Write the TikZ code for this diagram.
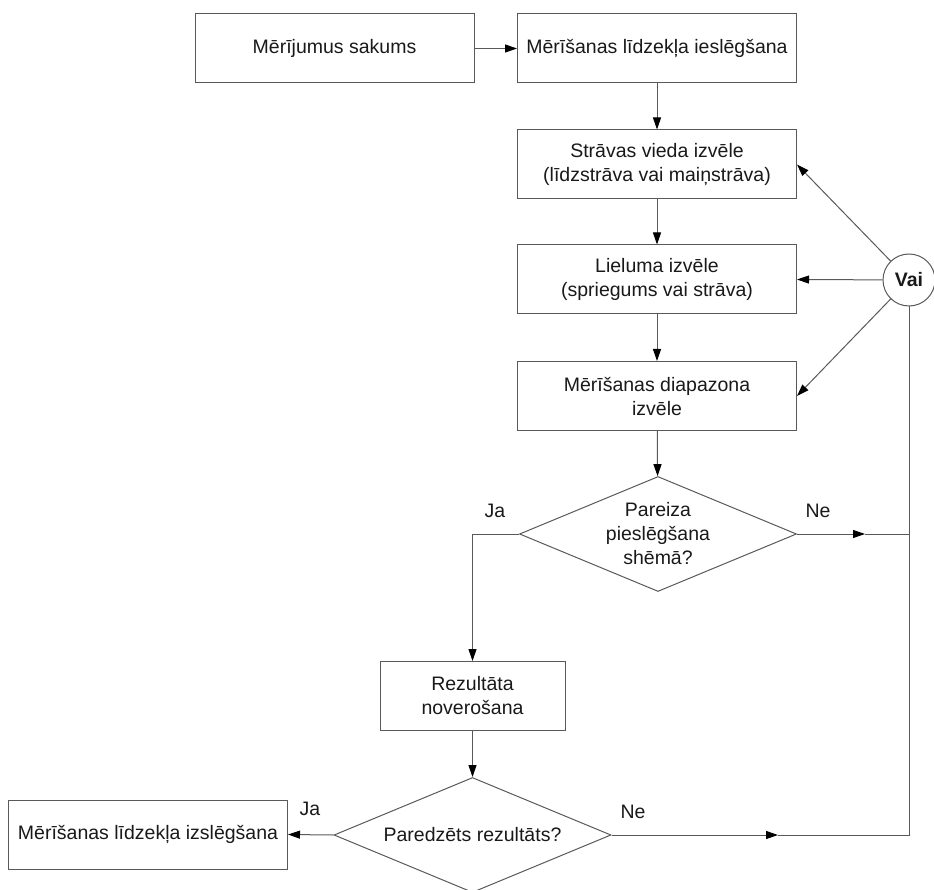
\documentclass[tikz,border=0pt]{standalone}
\usepackage{fontspec}
\setmainfont{Liberation Sans}
\usepackage{tikz}
\usetikzlibrary{shapes, arrows.meta, positioning, calc}

\begin{document}
\begin{tikzpicture}[
    x=1pt, y=-1pt,
    every node/.style={font=\fontsize{19.5pt}{24pt}\selectfont, text=black!90},
    blk/.style={draw=black!65, line width=1pt, minimum width=279pt, minimum height=69pt,
                align=center, inner sep=2pt},
    qst/.style={diamond, draw=black!65, line width=1pt, aspect=2.4, inner sep=0pt,
                minimum width=277pt, minimum height=115pt, align=center},
    arr/.style={-{Triangle[length=12pt, width=8pt, color=black]}, draw=black!65, line width=1pt},
    ln/.style={draw=black!65, line width=1pt}
]
\useasboundingbox (0,0) rectangle (934,890);

% Main column
\node[blk] (start) at (334.5, 48.5) {Mērījumus sakums};
\node[blk] (ieslg) at (657, 48.5) {Mērīšanas līdzekļa ieslēgšana};
\node[blk] (strav) at (657, 164.5) {Strāvas vieda izvēle\\(līdzstrāva vai maiņstrāva)};
\node[blk] (liel) at (657, 279.5) {Lieluma izvēle\\(spriegums vai strāva)};
\node[blk] (diap) at (657, 396) {Mērīšanas diapazona\\izvēle};
\node[qst] (piesl) at (658, 534) {Pareiza\\pieslēgšana\\shēmā?};

% Lower part
\node[blk, minimum width=185pt] (rez) at (472.5, 696) {Rezultāta\\noverošana};
\node[qst] (pared) at (472.5, 835) {Paredzēts rezultāts?};
\node[blk] (izslg) at (148, 834.5) {Mērīšanas līdzekļa izslēgšana};

% Choice node
\node[circle, draw=black!65, line width=1pt, minimum size=52pt, inner sep=0pt,
      font=\fontsize{19.5pt}{24pt}\selectfont\bfseries] (vai) at (909, 280) {Vai};

% Labels
\node (ja1) at (495, 511) {Ja};
\node (ne1) at (818, 511) {Ne};
\node (ja2) at (310, 809) {Ja};
\node (ne2) at (633, 812) {Ne};

% Helper points
\coordinate (mid1) at (865, 534);
\coordinate (mid2) at (778, 835);
\coordinate (corner) at (vai.south |- pared.east);

% Flow
\draw[arr] (start) -- (ieslg);
\draw[arr] (ieslg) -- (strav);
\draw[arr] (strav) -- (liel);
\draw[arr] (liel) -- (diap);
\draw[arr] (diap) -- (piesl);
\draw[arr] (piesl.west) -| (rez.north);
\draw[arr] (rez) -- (pared);
\draw[arr] (pared.west) -- (izslg.east);

% Return lines
\draw[arr] (piesl.east) -- (mid1);
\draw[ln] (mid1) -- (vai.south |- mid1);
\draw[arr] (pared.east) -- (mid2);
\draw[ln] (mid2) -- (corner) -- (vai.south);

% Choices
\draw[arr] (vai) -- (strav.east);
\draw[arr] (vai) -- (liel.east);
\draw[arr] (vai) -- (diap.east);
\end{tikzpicture}
\end{document}
